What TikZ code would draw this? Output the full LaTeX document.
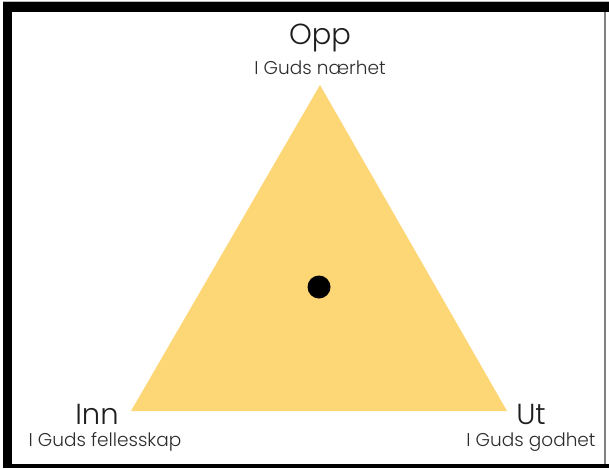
\documentclass[tikz,border=0pt]{standalone}
\usepackage{fontspec}
\setmainfont{Poppins}[UprightFont={* Light}]
\definecolor{triyellow}{RGB}{253,214,118}
\definecolor{txtdark}{RGB}{30,30,30}
\definecolor{txtsub}{RGB}{45,45,45}
\tikzset{
  big/.style={font=\fontsize{29}{29}\selectfont, text=txtdark, anchor=base, inner sep=0pt},
  sub/.style={font=\fontsize{18.5}{18.5}\selectfont, text=txtsub, anchor=base, inner sep=0pt},
  tri/.style={fill=triyellow},
  dot/.style={circle, fill=black, minimum size=23pt, inner sep=0pt}
}
\begin{document}
\begin{tikzpicture}[x=1pt,y=-1pt]
\useasboundingbox (0,0) rectangle (609,468);
\fill[white] (0,0) rectangle (609,468);
% frame
\fill[gray!55] (3,1) rectangle (609,2.5);
\fill[black] (3,2.5) rectangle (609,12);
\fill[black] (3,2.5) rectangle (12,468);
\fill[black] (3,464) rectangle (609,468);
\fill[gray] (604,12) rectangle (605.5,464);
% triangle
\coordinate (A) at (320,85);
\coordinate (B) at (131,411);
\coordinate (C) at (507,411);
\fill[tri] (A) -- (B) -- (C) -- cycle;
\node[dot] (center) at (319,287) {};
% labels
\node[big] (opp) at (320,45) {Opp};
\node[sub] (oppsub) at (320,75) {I Guds nærhet};
\node[big] (inn) at (97,424) {Inn};
\node[sub] (innsub) at (105,446) {I Guds fellesskap};
\node[big] (ut) at (531,424) {Ut};
\node[sub] (utsub) at (531,446) {I Guds godhet};
\end{tikzpicture}
\end{document}
